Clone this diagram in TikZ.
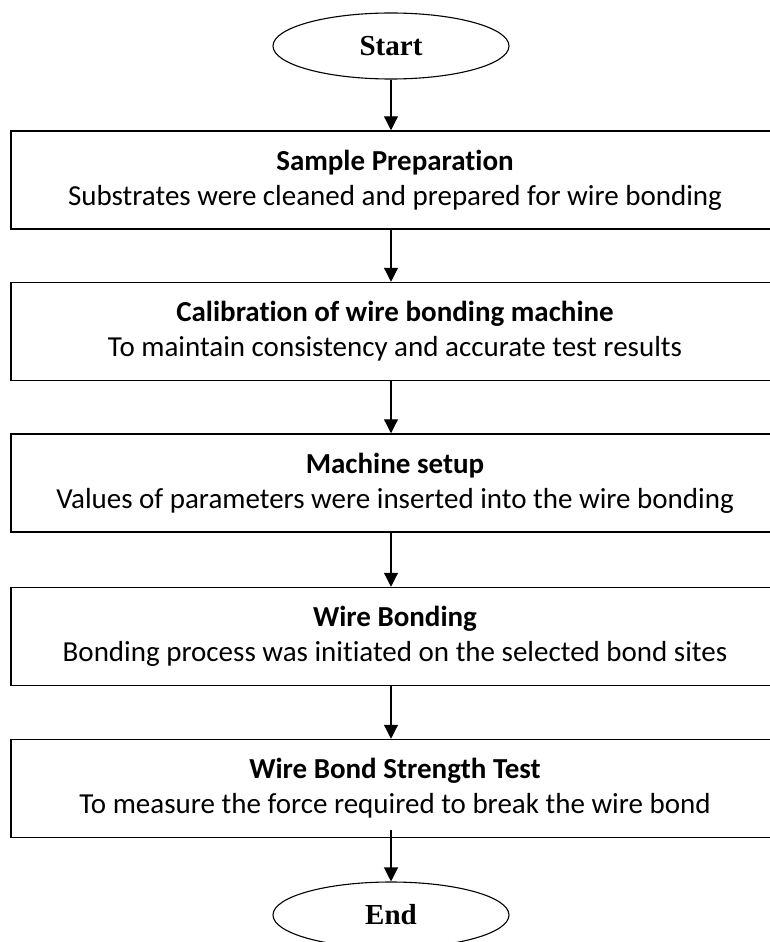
\documentclass[tikz,border=0pt]{standalone}
\usepackage{fontspec}
\setmainfont{Carlito}[Ligatures=NoCommon]
\newfontfamily\serifb{Liberation Serif}
\usetikzlibrary{arrows.meta,shapes.geometric,calc}
\begin{document}
\begin{tikzpicture}[x=1pt,y=-1pt,
  box/.style={draw, line width=1.5pt, minimum width=768pt, minimum height=98pt,
    inner sep=0pt, align=center, font=\fontsize{29}{35}\selectfont},
  term/.style={draw, ellipse, line width=1.1pt, minimum width=236pt, minimum height=66pt,
    inner sep=0pt, font=\serifb\bfseries\fontsize{29}{32}\selectfont},
  arr/.style={line width=1.2pt, -{Triangle[width=14pt,length=14pt]}}]
\useasboundingbox (0,0) rectangle (769,942);
\node[term] (start) at (391,46) {Start};
\node[box] (b1) at (395,180) {\textbf{Sample Preparation}\\Substrates were cleaned and prepared for wire bonding};
\node[box] (b2) at (395,331.5) {\textbf{Calibration of wire bonding machine}\\To maintain consistency and accurate test results};
\node[box] (b3) at (395,483) {\textbf{Machine setup}\\Values of parameters were inserted into the wire bonding};
\node[box] (b4) at (395,636.5) {\textbf{Wire Bonding}\\Bonding process was initiated on the selected bond sites};
\node[box] (b5) at (395,788.5) {\textbf{Wire Bond Strength Test}\\To measure the force required to break the wire bond};
\node[term] (end) at (391,915) {End};
\draw[arr] (start) -- (start |- b1.north);
\draw[arr] (b1.south -| start) -- (b2.north -| start);
\draw[arr] (b2.south -| start) -- (b3.north -| start);
\draw[arr] (b3.south -| start) -- (b4.north -| start);
\draw[arr] (b4.south -| start) -- (b5.north -| start);
\draw[arr] ($(b5.south -| start)+(0,-8)$) -- (end);
\end{tikzpicture}
\end{document}
